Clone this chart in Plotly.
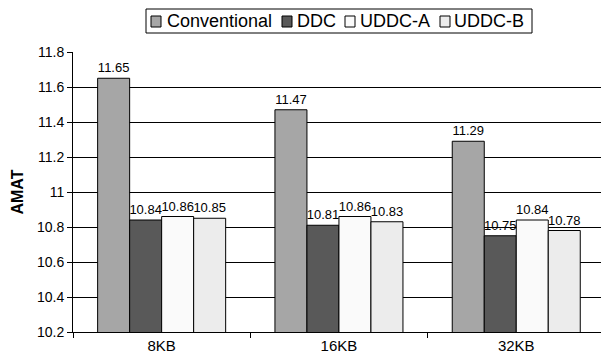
import plotly.graph_objects as go

# Cache sizes and AMAT per scheme
cache_sizes = ["8KB", "16KB", "32KB"]
conventional = [11.65, 11.47, 11.29]
ddc = [10.84, 10.81, 10.75]
uddc_a = [10.86, 10.86, 10.84]
uddc_b = [10.85, 10.83, 10.78]

series_names = ["Conventional", "DDC", "UDDC-A", "UDDC-B"]
series_values = [conventional, ddc, uddc_a, uddc_b]
series_colors = ["#a6a6a6", "#595959", "#fafafa", "#ececec"]

FONT = "Liberation Sans, Arial, Helvetica, sans-serif"

W, H = 601, 364
ML, MT, MB = 73, 52, 32
PW = W - ML
PH = H - MT - MB


def px(x):
    """Pixel column -> paper x."""
    return (x - ML) / PW


def py(y):
    """Pixel row -> paper y."""
    return (H - MB - y) / PH


fig = go.Figure()
for name, vals, color in zip(series_names, series_values, series_colors):
    fig.add_trace(go.Bar(
        name=name,
        x=cache_sizes,
        y=vals,
        marker=dict(color=color, line=dict(color="black", width=1)),
        text=[f"{v:.2f}" for v in vals],
        textposition="outside",
        constraintext="none",
        textfont=dict(family=FONT, size=13, color="black"),
        cliponaxis=False,
    ))

# Boxed legend row above the plot: frame, swatches and labels
legend_box = (146, 9, 532, 33)
swatch_left = [151, 282, 345, 440]
label_left = [167, 297, 360, 454]
shapes = [dict(
    type="rect", xref="paper", yref="paper",
    x0=px(legend_box[0]), x1=px(legend_box[2]),
    y0=py(legend_box[3]), y1=py(legend_box[1]),
    line=dict(color="black", width=1), fillcolor="white", layer="above",
)]
annotations = []
for name, color, sx, lx in zip(series_names, series_colors, swatch_left, label_left):
    shapes.append(dict(
        type="rect", xref="paper", yref="paper",
        x0=px(sx), x1=px(sx + 10), y0=py(27), y1=py(16),
        line=dict(color="black", width=1), fillcolor=color, layer="above",
    ))
    annotations.append(dict(
        text=name, xref="paper", yref="paper",
        x=px(lx - 2), y=py(21.5), xanchor="left", yanchor="middle",
        showarrow=False, font=dict(family=FONT, size=18, color="black"),
    ))

fig.update_layout(
    width=W,
    height=H,
    margin=dict(l=ML, r=0, t=MT, b=MB, pad=0),
    paper_bgcolor="white",
    plot_bgcolor="white",
    font=dict(family=FONT, color="black"),
    barmode="group",
    bargap=0.278,
    bargroupgap=0,
    showlegend=False,
    shapes=shapes,
    annotations=annotations,
)

fig.update_xaxes(
    range=[-0.5, -0.5 + PW / 177.3],
    showline=True, linecolor="black", linewidth=1,
    ticks="outside", tickson="boundaries", ticklen=5, tickcolor="black",
    tickfont=dict(family=FONT, size=15, color="black"),
    showgrid=False,
)
fig.update_yaxes(
    range=[10.2, 11.8], dtick=0.2, tick0=10.2,
    showline=True, linecolor="black", linewidth=1,
    ticks="outside", ticklen=5, tickcolor="black",
    showgrid=True, gridcolor="black", gridwidth=1,
    zeroline=False,
    tickfont=dict(family=FONT, size=14, color="black"),
    title=dict(text="<b>AMAT</b>", font=dict(family=FONT, size=16, color="black"), standoff=9),
)

fig.write_html("out.html")
